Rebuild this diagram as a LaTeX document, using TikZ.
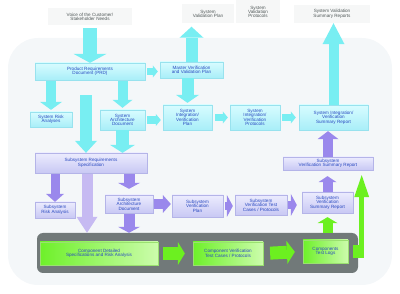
\documentclass[tikz,border=0pt]{standalone}
\usepackage{fontspec}
\setmainfont{Liberation Sans}
\usetikzlibrary{arrows.meta,shadows,calc}
\definecolor{bgc}{HTML}{F4F7F9}
\definecolor{faint}{HTML}{F6F7F7}
\definecolor{labgray}{HTML}{505858}
\definecolor{txtblue}{HTML}{2848C0}
\definecolor{cyA}{HTML}{78EEF2}
\definecolor{cyT}{HTML}{D8FCFF}
\definecolor{cyB}{HTML}{A8EEF8}
\definecolor{cyBd}{HTML}{98E2EE}
\definecolor{puA}{HTML}{9A88EC}
\definecolor{puL}{HTML}{C6BAF2}
\definecolor{puT}{HTML}{ECECFE}
\definecolor{puB}{HTML}{C8C8F4}
\definecolor{puBd}{HTML}{B4B4E8}
\definecolor{grA}{HTML}{6CF020}
\definecolor{grL}{HTML}{6EF02A}
\definecolor{grR}{HTML}{CCFCAC}
\definecolor{grBd}{HTML}{9AE070}
\definecolor{barc}{HTML}{717979}
\begin{document}
\begin{tikzpicture}[x=1pt,y=-1pt,
  txt/.style={font=\fontsize{4.6}{4.4}\selectfont, align=center, inner sep=0pt},
  sz/.style 2 args={minimum width=#1pt,minimum height=#2pt},
  shad/.style={drop shadow={shadow xshift=0.6pt,shadow yshift=-0.6pt,opacity=0.22}},
  cbox/.style={txt, text=txtblue, draw=cyBd, line width=0.3pt, top color=cyT, bottom color=cyB, shad},
  pbox/.style={txt, text=txtblue, draw=puBd, line width=0.3pt, top color=puT, bottom color=puB, shad},
  gbox/.style={txt, text=txtblue, draw=grBd, line width=0.3pt, left color=grL, right color=grR, shad},
  toplabel/.style={txt, text=labgray, fill=faint},
  barstyle/.style={fill=barc, rounded corners=6pt, inner sep=0pt},
  gsqstyle/.style={fill=grA, inner sep=0pt},
  carrow/.style args={#1,#2,#3}{draw=cyA, line width=#1pt, -{Triangle[width=#2pt,length=#3pt,line width=0pt]}},
  parrow/.style args={#1,#2,#3}{draw=puA, line width=#1pt, -{Triangle[width=#2pt,length=#3pt,line width=0pt]}},
  plarrow/.style args={#1,#2,#3}{draw=puL, line width=#1pt, -{Triangle[width=#2pt,length=#3pt,line width=0pt]}},
  garrow/.style args={#1,#2,#3}{draw=grA, line width=#1pt, -{Triangle[width=#2pt,length=#3pt,line width=0pt]}}
]
\useasboundingbox (0,0) rectangle (400,294);
\fill[bgc, rounded corners=30pt] (8,38) rectangle (392,285);

% top labels
\node[toplabel, sz={84}{17}] (voice) at (90,17) {Voice of the Customer/\\Stakeholder Needs};
\node[toplabel, sz={52}{19}] (svpl) at (208,14) {System\\Validation Plan};
\node[toplabel, sz={44}{23}] (svprotl) at (258,12) {System\\Validation\\Protocols};
\node[toplabel, sz={76}{18}] (svsrl) at (332,14) {System Validation\\Summary Reports};

% bottom bar
\node[barstyle, sz={321}{40}] (bar) at (197.5,253) {};

% cyan boxes
\node[cbox, sz={110}{17}] (prd) at (90,71.5) {Product Requirements\\Document (PRD)};
\node[cbox, sz={63}{16}] (master) at (191.5,70) {Master Verification\\and Validation Plan};
\node[cbox, sz={42}{15}] (sra) at (51,119.5) {System Risk\\Analyses};
\node[cbox, sz={45}{20}] (sad) at (122.5,120) {System\\Architecture\\Document};
\node[cbox, sz={49}{25}] (sivp) at (187.5,117.5) {System\\Integration/\\Verification\\Plan};
\node[cbox, sz={50}{25}] (sivprot) at (255,117.5) {System\\Integration/\\Verification\\Protocols};
\node[cbox, sz={69}{25}] (sivsr) at (333.5,117.5) {System Integration/\\Verification\\Summary Report};

% purple boxes
\node[pbox, sz={90}{13}] (ssvsrup) at (328,163.5) {Subsystem\\Verification Summary Report};
\node[pbox, sz={112}{20}] (srs) at (91,163) {Subsystem Requirements\\Specification};
\node[pbox, sz={40}{16}] (ssra) at (55,210) {Subsystem\\Risk Analysis};
\node[pbox, sz={48}{18}] (ssad) at (129,204) {Subsystem\\Architecture\\Document};
\node[pbox, sz={51}{22}] (ssvp) at (197.5,206) {Subsystem\\Verification\\Plan};
\node[pbox, sz={52}{20}] (ssvtc) at (261,205) {Subsystem\\Verification Test\\Cases / Protocols};
\node[pbox, sz={51}{21}] (ssvsrlo) at (327.5,202.5) {Subsystem\\Verification\\Summary Report};

% green boxes
\node[gbox, sz={118}{23}] (cds) at (99,253.5) {Component Detailed\\Specifications and Risk Analysis};
\node[gbox, sz={70}{23}] (cvtc) at (228,253.5) {Component Verification\\Test Cases / Protocols};
\node[gbox, sz={45}{23}] (ctl) at (325.5,251.5) {Components\\Test Logs};
\node[gsqstyle, sz={11}{13}] (gsq) at (358.5,251.5) {};

% cyan arrows
\draw[carrow={14,33,9}, shorten <=2.5pt] (voice.south) -- (prd.north);
\draw[carrow={12,24,11}, shorten >=3pt] (master.north) -- (master.north |- svpl.south);
\draw[carrow={10,22,21}] (sivsr.north) -- (sivsr.north |- svsrl.south);
\draw[carrow={7,12,5}, shorten <=2pt, shorten >=2pt] (prd.east) -- (prd.east -| master.west);
\draw[carrow={10,22,8}, shorten <=1pt, shorten >=2pt] (prd.south -| sra.north) -- (sra.north);
\draw[carrow={12,22,12}, shorten <=15pt] ([xshift=-4pt]prd.south) -- ([xshift=-4pt]prd.south |- srs.north);
\draw[carrow={10,20,8}, shorten <=1pt, shorten >=2pt] (prd.south -| sad.north) -- (sad.north);
\draw[carrow={13,25,8}] (sad.south) -- (sad.south |- srs.north);
\draw[carrow={8,12,5}, shorten <=2pt, shorten >=2pt] (sad.east) -- (sad.east -| sivp.west);
\draw[carrow={12,23,8}, shorten >=2pt] (master.south -| sivp.north) -- (sivp.north);
\draw[carrow={7,12,5}, shorten <=3pt, shorten >=2pt] (sivp.east) -- (sivp.east -| sivprot.west);
\draw[carrow={7,12,5}, shorten <=2pt, shorten >=3pt] (sivprot.east) -- (sivprot.east -| sivsr.west);

% purple arrows
\draw[parrow={10,21,8}, shorten >=1pt] (ssvsrup.north) -- (ssvsrup.north |- sivsr.south);
\draw[parrow={9,18,8}, shorten <=1pt] (srs.south -| ssra.north) -- (ssra.north);
\draw[plarrow={11,21,16}, shorten <=1pt] ([xshift=-4pt]srs.south) -- ([xshift=-4pt]srs.south |- bar.north);
\draw[parrow={11,22,6}, shorten <=1pt, shorten >=6pt] (srs.south -| ssad.north) -- (ssad.north);
\draw[parrow={11,22,6}, shorten <=1pt] (ssad.south) -- (ssad.south |- bar.north);
\draw[parrow={10,18,8}, shorten <=1pt, shorten >=1pt] (ssad.east) -- (ssad.east -| ssvp.west);
\draw[parrow={8,22,6}, shorten <=2pt, shorten >=2pt] (ssvp.east) -- (ssvp.east -| ssvtc.west);
\draw[parrow={8,22,6}, shorten <=1pt, shorten >=5pt] (ssvtc.east) -- (ssvtc.east -| ssvsrlo.west);
\draw[parrow={10,18,6}, shorten >=6pt] (ssvsrlo.north) -- (ssvsrlo.north |- ssvsrup.south);

% green arrows
\draw[garrow={13,23,7}, shorten <=5pt, shorten >=8pt] (cds.east) -- (cvtc.west);
\draw[garrow={13,23,8}, shorten <=7pt, shorten >=8pt] (cvtc.east) -- (ctl.west);
\draw[garrow={10,20,6}, shorten >=4pt] (ssvsrlo.south |- bar.north) -- (ssvsrlo.south);
\draw[garrow={5,15,22}, shorten >=5pt] ([xshift=-2.5pt]gsq.south east) -- ([xshift=-2.5pt]gsq.south east |- ssvsrup.south);
\end{tikzpicture}
\end{document}
